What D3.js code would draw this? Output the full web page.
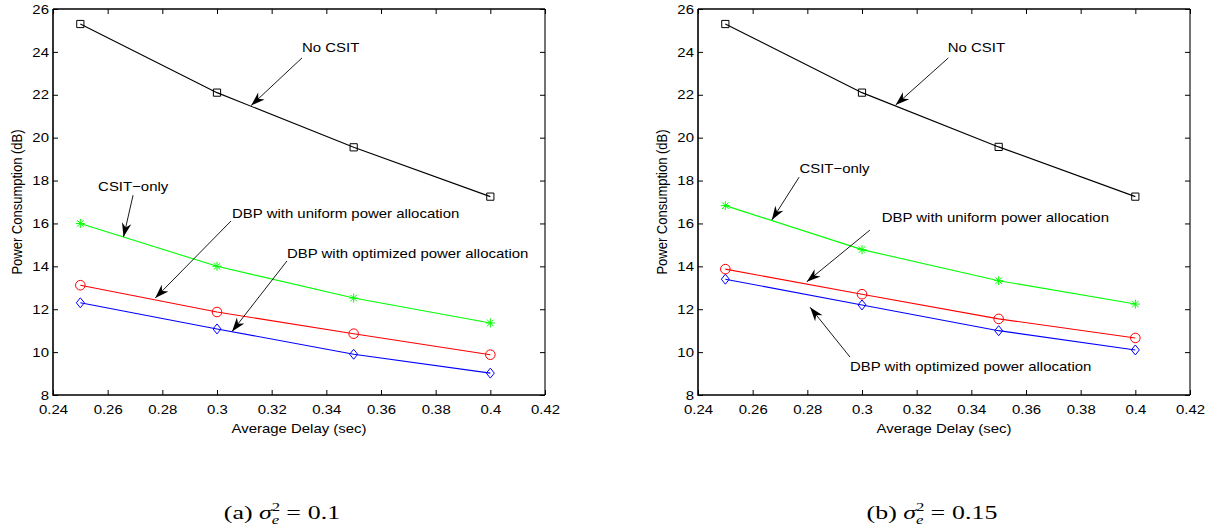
<!DOCTYPE html>
<html>
<head>
<meta charset="utf-8">
<script src="https://cdn.jsdelivr.net/npm/d3@7/dist/d3.min.js"></script>
<style>
  body { margin: 0; background: #fff; }
  svg { display: block; }
  .ax text { font-family: "Liberation Sans", Arial, Helvetica, sans-serif; font-size: 13px; fill: #000; }
</style>
</head>
<body>
<svg id="chart" width="1212" height="531"></svg>
<script>
// ---- data ----------------------------------------------------------------
const delays = [0.25, 0.3, 0.35, 0.4];

const xTicks = [0.24, 0.26, 0.28, 0.30, 0.32, 0.34, 0.36, 0.38, 0.40, 0.42];
const xTickLabels = ["0.24", "0.26", "0.28", "0.3", "0.32", "0.34", "0.36", "0.38", "0.4", "0.42"];
const yTicks = [8, 10, 12, 14, 16, 18, 20, 22, 24, 26];
const yTickLabels = ["8", "10", "12", "14", "16", "18", "20", "22", "24", "26"];

const seriesNames = ["No CSIT", "CSIT\u2212only", "DBP with uniform power allocation", "DBP with optimized power allocation"];

// (a) sigma_e^2 = 0.1
const noCsitA     = [25.30, 22.10, 19.55, 17.25];
const csitOnlyA   = [16.00, 14.00, 12.52, 11.36];
const uniformA    = [13.12, 11.87, 10.86, 9.88];
const optimizedA  = [12.30, 11.08, 9.90, 9.02];

// (b) sigma_e^2 = 0.15
const noCsitB     = [25.30, 22.10, 19.57, 17.25];
const csitOnlyB   = [16.83, 14.78, 13.33, 12.24];
const uniformB    = [13.87, 12.70, 11.55, 10.66];
const optimizedB  = [13.40, 12.20, 11.00, 10.10];

// annotation callouts in data units: label anchor, arrow tail, arrow head
const notesA = [
  { text: seriesNames[0], at: [0.3311, 23.99], from: [0.3311, 23.72], to: [0.3125, 21.50] },
  { text: seriesNames[1], at: [0.2565, 17.51], from: [0.2693, 17.32], to: [0.2658, 15.37] },
  { text: seriesNames[2], at: [0.3055, 16.27], from: [0.3051, 16.11], to: [0.2774, 12.52] },
  { text: seriesNames[3], at: [0.3256, 14.39], from: [0.3256, 14.25], to: [0.3055, 10.96] }
];
const notesB = [
  { text: seriesNames[0], at: [0.3314, 23.99], from: [0.3316, 23.72], to: [0.3123, 21.52] },
  { text: seriesNames[1], at: [0.2771, 18.37], from: [0.2770, 18.16], to: [0.2670, 16.16] },
  { text: seriesNames[2], at: [0.3072, 16.09], from: [0.3029, 15.69], to: [0.2798, 13.28] },
  { text: seriesNames[3], at: [0.2956, 9.12],  from: [0.2956, 9.77],  to: [0.2810, 12.09] }
];

const captionLabels = ["(a)", "(b)"];
const captionValues = ["0.1", "0.15"];

// ---- layout / style ------------------------------------------------------
const SX = 1.15;                    // horizontal stretch of the lettering
const FS = 13;
const FONT = '"Liberation Sans", Arial, Helvetica, sans-serif';
const SERIF = '"Liberation Serif", "Times New Roman", serif';
const plotTop = 9, plotBottom = 395, plotW = 492;
const panelLefts = [53, 698];
const captionCenters = [282, 932];
const colors = ["#000000", "#00ff00", "#ff0000", "#0000ff"];
const markers = ["square", "star", "circle", "diamond"];

const svg = d3.select("#chart");
const y = d3.scaleLinear().domain([8, 26]).range([plotBottom, plotTop]);

function markerPath(kind) {
  switch (kind) {
    case "square":  return "M-3.6,-3.6H3.6V3.6H-3.6Z";
    case "diamond": return "M0,-5L4,0L0,5L-4,0Z";
    case "star":    return "M-4.5,0H4.5M0,-4.5V4.5M-3.3,-3.3L3.3,3.3M-3.3,3.3L3.3,-3.3";
    default:        return null;
  }
}

function drawArrow(g, x1, y1, x2, y2) {
  g.append("line")
    .attr("x1", x1).attr("y1", y1).attr("x2", x2).attr("y2", y2)
    .attr("stroke", "#000").attr("stroke-width", 0.9);
  const ang = Math.atan2(y2 - y1, x2 - x1) * 180 / Math.PI;
  const L = 14, W = 9.5;
  g.append("path")
    .attr("d", `M0,0L${-L},${-W / 2}L${-L * 0.7},0L${-L},${W / 2}Z`)
    .attr("transform", `translate(${x2},${y2}) rotate(${ang})`)
    .attr("fill", "#000");
}

function drawPanel(idx, seriesList, notes) {
  const left = panelLefts[idx], right = left + plotW;
  const x = d3.scaleLinear().domain([0.24, 0.42]).range([left, right]);
  const g = svg.append("g");

  // axes with inward ticks on all four sides
  const bx = g.append("g").attr("class", "ax").attr("transform", `translate(0,${plotBottom})`)
    .call(d3.axisBottom(x).tickValues(xTicks).tickFormat((d, i) => xTickLabels[i])
      .tickSizeInner(-5).tickSizeOuter(0).tickPadding(10));
  const lx = g.append("g").attr("class", "ax").attr("transform", `translate(${left},0)`)
    .call(d3.axisLeft(y).tickValues(yTicks).tickFormat((d, i) => yTickLabels[i])
      .tickSizeInner(-5).tickSizeOuter(0).tickPadding(3.5));
  const tx = g.append("g").attr("class", "ax").attr("transform", `translate(0,${plotTop})`)
    .call(d3.axisTop(x).tickValues(xTicks).tickFormat("").tickSizeInner(-5).tickSizeOuter(0));
  const rx = g.append("g").attr("class", "ax").attr("transform", `translate(${right},0)`)
    .call(d3.axisRight(y).tickValues(yTicks).tickFormat("").tickSizeInner(-5).tickSizeOuter(0));
  [bx, lx, tx, rx].forEach(a => {
    a.select(".domain").remove();
    a.selectAll("line").attr("stroke", "#000").attr("stroke-width", 1);
    a.selectAll("text").attr("transform", `scale(${SX},1)`);
  });

  // frame
  g.append("path")
    .attr("d", `M${left},${plotTop}H${right}`).attr("stroke", "#000").attr("stroke-width", 1.5);
  g.append("path")
    .attr("d", `M${right},${plotTop}V${plotBottom}`).attr("stroke", "#000").attr("stroke-width", 1.1);
  g.append("path")
    .attr("d", `M${left},${plotTop}V${plotBottom}H${right}`).attr("stroke", "#000")
    .attr("stroke-width", 1.6).attr("fill", "none");

  // axis titles
  g.append("text")
    .attr("transform", `translate(${(left + right) / 2},${plotBottom + 38}) scale(${SX},1)`)
    .attr("text-anchor", "middle").attr("font-family", FONT).attr("font-size", FS)
    .attr("fill", "#000").text("Average Delay (sec)");
  g.append("text")
    .attr("transform", `translate(${left - 31},${(plotTop + plotBottom) / 2}) scale(${SX},1) rotate(-90)`)
    .attr("text-anchor", "middle").attr("font-family", FONT).attr("font-size", FS)
    .attr("fill", "#000").text("Power Consumption (dB)");

  // series lines and markers
  const line = d3.line().x((d, i) => x(delays[i])).y(d => y(d));
  seriesList.forEach((vals, s) => {
    g.append("path").attr("d", line(vals))
      .attr("fill", "none").attr("stroke", colors[s]).attr("stroke-width", 1.1);
    const pts = g.append("g").selectAll("g").data(vals).join("g")
      .attr("transform", (d, i) => `translate(${x(delays[i])},${y(d)})`);
    if (markers[s] === "circle") {
      pts.append("circle").attr("r", 4.8).attr("fill", "none")
        .attr("stroke", colors[s]).attr("stroke-width", 1);
    } else {
      pts.append("path").attr("d", markerPath(markers[s])).attr("fill", "none")
        .attr("stroke", colors[s]).attr("stroke-width", 1);
    }
  });

  // callouts
  notes.forEach(n => {
    g.append("text")
      .attr("transform", `translate(${x(n.at[0])},${y(n.at[1])}) scale(${SX},1)`)
      .attr("font-family", FONT).attr("font-size", FS).attr("fill", "#000")
      .text(n.text);
    drawArrow(g, x(n.from[0]), y(n.from[1]), x(n.to[0]), y(n.to[1]));
  });

  // sub-figure caption
  const cap = svg.append("text")
    .attr("transform", `translate(${captionCenters[idx]},519) scale(1.4,1)`)
    .attr("text-anchor", "middle").attr("font-family", SERIF).attr("font-size", 18.5)
    .attr("fill", "#000");
  cap.append("tspan").text(captionLabels[idx] + " ");
  cap.append("tspan").attr("font-style", "italic").text("\u03c3");
  cap.append("tspan").attr("font-size", 12).attr("dy", -8).text("2");
  cap.append("tspan").attr("font-size", 12).attr("font-style", "italic")
    .attr("dx", -6).attr("dy", 13).text("e");
  cap.append("tspan").attr("dy", -5).attr("dx", 5).text("=");
  cap.append("tspan").attr("dx", 5).text(captionValues[idx]);
}

drawPanel(0, [noCsitA, csitOnlyA, uniformA, optimizedA], notesA);
drawPanel(1, [noCsitB, csitOnlyB, uniformB, optimizedB], notesB);
</script>
</body>
</html>
